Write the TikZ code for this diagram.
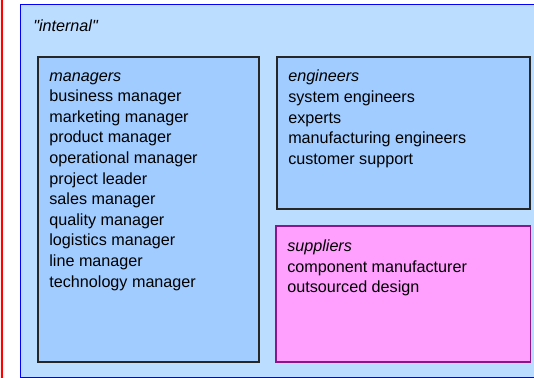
\documentclass[tikz,border=0pt]{standalone}
\usepackage{fontspec}
\setmainfont{Liberation Sans}
\usetikzlibrary{positioning}
\definecolor{outerblue}{RGB}{187,221,255}
\definecolor{innerblue}{RGB}{160,204,255}
\definecolor{supplierpink}{RGB}{255,160,255}
\definecolor{supplierpurple}{RGB}{140,20,140}
\definecolor{extpink}{RGB}{255,230,230}

\begin{document}
\begin{tikzpicture}[
    groupbox/.style={rectangle, draw=black!85, line width=1.2pt, fill=innerblue, anchor=north west, inner sep=0pt},
    listtext/.style={font=\fontsize{11.5}{14.65}\selectfont, align=left, inner sep=0pt, anchor=north west}
]
\useasboundingbox (0,0) rectangle (13.35,-9.45);

% Neighbouring box, only its right edge shows
\node[rectangle, draw=red, line width=1pt, fill=extpink, anchor=north east, minimum width=3cm, minimum height=10cm, inner sep=0pt] (external) at (0.0625,0.3) {};

% Outer "internal" box
\node[rectangle, draw=blue, line width=1pt, fill=outerblue, anchor=north west, minimum width=13.2cm, minimum height=9.325cm, inner sep=0pt] (internal) at (0.5,-0.1) {};
\node[listtext, below right=0.31cm and 0.325cm of internal.north west] (internaltitle) {\strut\textit{\textquotedbl internal\textquotedbl}};

% Groups inside
\node[groupbox, minimum width=5.5125cm, minimum height=7.625cm] (managers) at (0.9375,-1.4) {};
\node[groupbox, minimum width=6.3375cm, minimum height=3.8cm] (engineers) at (6.9,-1.4) {};
\node[groupbox, draw=supplierpurple, fill=supplierpink, minimum width=6.3625cm, minimum height=3.4cm] (suppliers) at (6.875,-5.625) {};

% Lists, first line just below the top edge
\node[listtext, below right=0.26cm and 0.29cm of managers.north west] (managerlist) {\strut\textit{managers}\\business manager\\marketing manager\\product manager\\operational manager\\project leader\\sales manager\\quality manager\\logistics manager\\line manager\\technology manager};
\node[listtext, below right=0.28cm and 0.3cm of engineers.north west] (engineerlist) {\strut\textit{engineers}\\system engineers\\experts\\manufacturing engineers\\customer support};
\node[listtext, below right=0.3cm and 0.3cm of suppliers.north west] (supplierlist) {\strut\textit{suppliers}\\component manufacturer\\outsourced design};

\end{tikzpicture}
\end{document}
